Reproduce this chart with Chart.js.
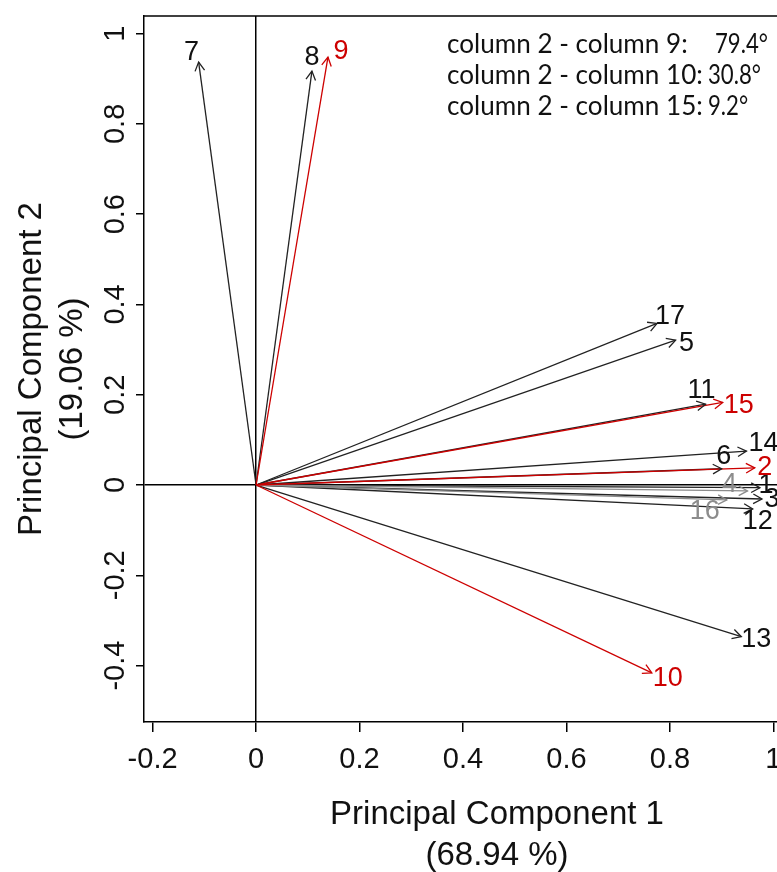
<!DOCTYPE html>
<html>
<head>
<meta charset="utf-8">
<script src="https://cdn.jsdelivr.net/npm/chart.js@4.4.1/dist/chart.umd.min.js"></script>
<style>
  html, body { margin: 0; padding: 0; background: #fff; }
  canvas { display: block; }
</style>
</head>
<body>
<canvas id="biplot" width="777" height="872"></canvas>
<script>
// loadings of each column on the first two components
const columns = ['1', '2', '3', '4', '5', '6', '7', '8', '9', '10', '11', '12', '13', '14', '15', '16', '17'];
const pc1 = [0.974, 0.964, 0.978, 0.950, 0.811, 0.900, -0.111, 0.108, 0.139, 0.765, 0.869, 0.960, 0.938, 0.948, 0.902, 0.910, 0.775];
const pc2 = [-0.006, 0.038, -0.031, -0.013, 0.321, 0.036, 0.937, 0.917, 0.948, -0.416, 0.179, -0.053, -0.336, 0.075, 0.183, -0.033, 0.358];
const highlight = ['black', 'red', 'black', 'gray', 'black', 'black', 'black', 'black', 'red', 'red', 'black', 'black', 'black', 'black', 'red', 'gray', 'black'];

const xTicks = [-0.2, 0, 0.2, 0.4, 0.6, 0.8, 1];
const yTicks = [-0.4, -0.2, 0, 0.2, 0.4, 0.6, 0.8, 1];

const angleNames = ['column 2 - column 9:', 'column 2 - column 10:', 'column 2 - column 15:'];
const angleValues = ['79.4°', '30.8°', '9.2°'];

const colorOf = { black: '#222222', red: '#cd0000', gray: '#8c8c8c' };
const orderOf = { black: 2, gray: 1, red: 0 };
const rFont = '"Liberation Sans", Arial, sans-serif';
const noteFont = 'Lato, "Open Sans", sans-serif';

// where each label sits relative to its arrow tip (px)
const labelShift = {
  '1': [6, -2], '2': [10, 0], '3': [10, 1], '4': [-18, -6], '5': [11, 3], '6': [2, -12],
  '7': [-7, -9], '8': [0, -14], '9': [13, -6], '10': [16, 6], '11': [-4, -14], '12': [5, 13],
  '13': [15, 3], '14': [17, -8], '15': [16, 3], '16': [-22, 12], '17': [13, -7]
};

const datasets = columns.map((c, i) => ({
  label: c,
  data: [{ x: 0, y: 0 }, { x: pc1[i], y: pc2[i] }],
  showLine: true,
  borderColor: colorOf[highlight[i]],
  borderWidth: 1.3,
  pointRadius: 0,
  order: orderOf[highlight[i]]
}));

const fmt = v => String(Number(v.toFixed(1)));

const biplotDecor = {
  id: 'biplotDecor',
  afterDatasetsDraw(chart) {
    const ctx = chart.ctx;
    const xs = chart.scales.x, ys = chart.scales.y;
    const area = chart.chartArea;
    const ox = xs.getPixelForValue(0), oy = ys.getPixelForValue(0);

    // top frame line
    ctx.save();
    ctx.strokeStyle = '#000';
    ctx.lineWidth = 1.5;
    ctx.beginPath();
    ctx.moveTo(area.left, area.top);
    ctx.lineTo(area.right, area.top);
    ctx.stroke();

    // arrow heads + labels
    ctx.lineWidth = 1.3;
    ctx.font = '27px ' + rFont;
    ctx.textAlign = 'center';
    ctx.textBaseline = 'middle';
    columns.forEach((c, i) => {
      const tx = xs.getPixelForValue(pc1[i]), ty = ys.getPixelForValue(pc2[i]);
      const a = Math.atan2(ty - oy, tx - ox);
      const len = 10, spread = 0.5;
      const col = colorOf[highlight[i]];
      ctx.strokeStyle = col;
      ctx.beginPath();
      ctx.moveTo(tx - len * Math.cos(a - spread), ty - len * Math.sin(a - spread));
      ctx.lineTo(tx, ty);
      ctx.lineTo(tx - len * Math.cos(a + spread), ty - len * Math.sin(a + spread));
      ctx.stroke();
      const s = labelShift[c];
      ctx.fillStyle = col === '#222222' ? '#111' : col;
      ctx.fillText(c, tx + s[0], ty + s[1]);
    });

    // tick labels
    ctx.fillStyle = '#111';
    ctx.font = '29px ' + rFont;
    xTicks.forEach(v => {
      ctx.fillText(fmt(v), xs.getPixelForValue(v), 760);
    });
    yTicks.forEach(v => {
      ctx.save();
      ctx.translate(116, ys.getPixelForValue(v));
      ctx.rotate(-Math.PI / 2);
      ctx.fillText(fmt(v), 0, 0);
      ctx.restore();
    });

    // axis titles
    ctx.font = '33px ' + rFont;
    ctx.fillText('Principal Component 1', 497, 815);
    ctx.fillText('(68.94 %)', 497, 856);
    const midY = (area.top + area.bottom) / 2;
    ctx.save();
    ctx.translate(32, midY);
    ctx.rotate(-Math.PI / 2);
    ctx.fillText('Principal Component 2', 0, 0);
    ctx.restore();
    ctx.save();
    ctx.translate(73, midY);
    ctx.rotate(-Math.PI / 2);
    ctx.fillText('(19.06 %)', 0, 0);
    ctx.restore();

    // angle notes
    ctx.font = '24px ' + noteFont;
    const size = 24 * 256 / ctx.measureText(angleNames[1]).width;
    ctx.font = size.toFixed(1) + 'px ' + noteFont;
    ctx.textAlign = 'left';
    ctx.textBaseline = 'alphabetic';
    const valueX = [715, 708, 708];
    angleNames.forEach((n, i) => {
      const by = 53 + i * 31;
      ctx.fillText(n, 447, by);
      ctx.save();
      ctx.translate(valueX[i], by);
      ctx.scale(0.85, 1);
      ctx.fillText(angleValues[i], 0, 0);
      ctx.restore();
    });
    ctx.restore();
  }
};

const zeroLine = c => (c.tick && Math.abs(c.tick.value) < 1e-9) ? '#000' : 'rgba(0,0,0,0)';

new Chart(document.getElementById('biplot'), {
  type: 'scatter',
  data: { datasets },
  options: {
    responsive: false,
    animation: false,
    devicePixelRatio: 1,
    layout: { padding: { top: 16, left: 0, right: 0, bottom: 0 } },
    plugins: { legend: { display: false }, tooltip: { enabled: false } },
    scales: {
      x: {
        type: 'linear',
        min: -0.2166,
        max: 1.007,
        ticks: { stepSize: 0.2, includeBounds: false, display: false },
        grid: { color: zeroLine, tickColor: '#000', lineWidth: 1.5, tickLength: 10 },
        border: { display: true, color: '#000', width: 1.5 },
        afterFit: s => { s.height = 150; }
      },
      y: {
        type: 'linear',
        min: -0.525,
        max: 1.039,
        ticks: { stepSize: 0.2, includeBounds: false, display: false },
        grid: { color: zeroLine, tickColor: '#000', lineWidth: 1.5, tickLength: 8 },
        border: { display: true, color: '#000', width: 1.5 },
        afterFit: s => { s.width = 144; }
      }
    }
  },
  plugins: [biplotDecor]
});
</script>
</body>
</html>
